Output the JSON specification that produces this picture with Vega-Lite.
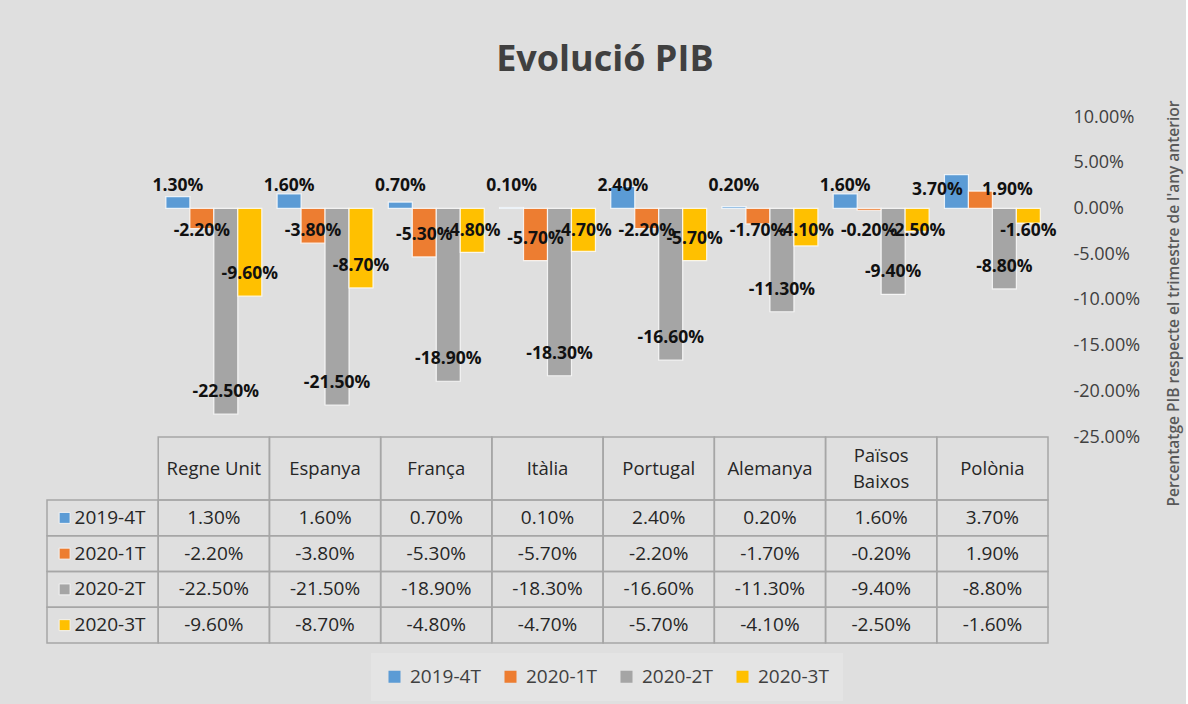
{
  "$schema": "https://vega.github.io/schema/vega-lite/v6.json",
  "background": "#dfdfdf",
  "padding": {"left": 46, "top": 42, "right": 4, "bottom": 4},
  "config": {
    "view": {"stroke": null},
    "font": "Open Sans",
    "locale": {"number": {"decimal": ".", "thousands": ",", "grouping": [3], "currency": ["", ""], "minus": "-"}}
  },
  "title": {"text": "Evolució PIB", "fontSize": 36, "fontWeight": "bold", "color": "#404040", "font": "Open Sans", "anchor": "middle", "offset": 21, "dx": -9},
  "datasets": {
    "gdp": [
      {"country": "Regne Unit", "period": "2019-4T", "value": 0.013},
      {"country": "Regne Unit", "period": "2020-1T", "value": -0.022},
      {"country": "Regne Unit", "period": "2020-2T", "value": -0.225},
      {"country": "Regne Unit", "period": "2020-3T", "value": -0.096},
      {"country": "Espanya", "period": "2019-4T", "value": 0.016},
      {"country": "Espanya", "period": "2020-1T", "value": -0.038},
      {"country": "Espanya", "period": "2020-2T", "value": -0.215},
      {"country": "Espanya", "period": "2020-3T", "value": -0.087},
      {"country": "França", "period": "2019-4T", "value": 0.007},
      {"country": "França", "period": "2020-1T", "value": -0.053},
      {"country": "França", "period": "2020-2T", "value": -0.189},
      {"country": "França", "period": "2020-3T", "value": -0.048},
      {"country": "Itàlia", "period": "2019-4T", "value": 0.001},
      {"country": "Itàlia", "period": "2020-1T", "value": -0.057},
      {"country": "Itàlia", "period": "2020-2T", "value": -0.183},
      {"country": "Itàlia", "period": "2020-3T", "value": -0.047},
      {"country": "Portugal", "period": "2019-4T", "value": 0.024},
      {"country": "Portugal", "period": "2020-1T", "value": -0.022},
      {"country": "Portugal", "period": "2020-2T", "value": -0.166},
      {"country": "Portugal", "period": "2020-3T", "value": -0.057},
      {"country": "Alemanya", "period": "2019-4T", "value": 0.002},
      {"country": "Alemanya", "period": "2020-1T", "value": -0.017},
      {"country": "Alemanya", "period": "2020-2T", "value": -0.113},
      {"country": "Alemanya", "period": "2020-3T", "value": -0.041},
      {"country": "Països Baixos", "period": "2019-4T", "value": 0.016},
      {"country": "Països Baixos", "period": "2020-1T", "value": -0.002},
      {"country": "Països Baixos", "period": "2020-2T", "value": -0.094},
      {"country": "Països Baixos", "period": "2020-3T", "value": -0.025},
      {"country": "Polònia", "period": "2019-4T", "value": 0.037},
      {"country": "Polònia", "period": "2020-1T", "value": 0.019},
      {"country": "Polònia", "period": "2020-2T", "value": -0.088},
      {"country": "Polònia", "period": "2020-3T", "value": -0.016}
    ],
    "periods": [
      {"period": "2019-4T"},
      {"period": "2020-1T"},
      {"period": "2020-2T"},
      {"period": "2020-3T"}
    ]
  },
  "spacing": 0,
  "bounds": "flush",
  "vconcat": [
    {
      "width": 1001,
      "height": 320,
      "data": {"name": "gdp"},
      "encoding": {
        "x": {"field": "country", "type": "nominal", "sort": null, "axis": null,
              "scale": {"domain": ["label", "Regne Unit", "Espanya", "França", "Itàlia", "Portugal", "Alemanya", "Països Baixos", "Polònia"], "paddingInner": 0, "paddingOuter": 0}},
        "xOffset": {"field": "period", "type": "nominal", "sort": null,
              "scale": {"domain": ["2019-4T", "2020-1T", "2020-2T", "2020-3T"], "paddingInner": 0, "paddingOuter": 0.32}}
      },
      "layer": [
        {
          "mark": {"type": "bar", "stroke": "#ffffff", "strokeWidth": 1.2, "strokeOpacity": 0.8},
          "encoding": {
            "y": {"field": "value", "type": "quantitative",
                  "scale": {"domain": [-0.25, 0.1], "nice": false, "zero": false},
                  "axis": {"orient": "right", "values": [0.1, 0.05, 0, -0.05, -0.1, -0.15, -0.2, -0.25], "format": ".2%",
                           "domain": false, "ticks": false, "grid": false, "labelPadding": 25, "labelFontSize": 18,
                           "labelColor": "#404040", "labelFont": "Open Sans",
                           "title": "Percentatge PIB respecte el trimestre de l'any anterior",
                           "titleAngle": 270, "titleX": 125, "titleY": 186, "titleAlign": "center", "titleBaseline": "middle",
                           "titleFontSize": 15.5, "titleFontWeight": 600, "titleColor": "#595959", "titleFont": "Open Sans"}},
            "color": {"field": "period", "type": "nominal",
                      "scale": {"domain": ["2019-4T", "2020-1T", "2020-2T", "2020-3T"], "range": ["#5b9bd5", "#ed7d31", "#a5a5a5", "#ffc000"]},
                      "legend": {"orient": "none", "legendX": 324, "legendY": 536, "direction": "horizontal", "title": null,
                                 "symbolType": "square", "symbolSize": 144, "symbolStrokeWidth": 0, "labelFontSize": 19,
                                 "labelFont": "Open Sans", "labelColor": "#404040", "columnPadding": 20, "labelOffset": 6,
                                 "fillColor": "#e4e4e4", "padding": 14}}
          }
        },
        {
          "transform": [
            {"filter": "!(datum.country === 'Polònia' && datum.value > 0)"},
            {"calculate": "datum.value >= 0 ? 0.025 : min(datum.value + 0.024, -0.025)", "as": "labelY"}
          ],
          "mark": {"type": "text", "fontWeight": "bold", "fontSize": 17.5, "color": "#111111", "font": "Open Sans"},
          "encoding": {
            "y": {"field": "labelY", "type": "quantitative"},
            "text": {"field": "value", "type": "quantitative", "format": ".2%"}
          }
        },
        {
          "transform": [{"filter": "datum.country === 'Polònia' && datum.period === '2019-4T'"}],
          "mark": {"type": "text", "fontWeight": "bold", "fontSize": 17.5, "color": "#111111", "font": "Open Sans", "dx": -19},
          "encoding": {
            "y": {"datum": 0.02, "type": "quantitative"},
            "text": {"field": "value", "type": "quantitative", "format": ".2%"}
          }
        },
        {
          "transform": [{"filter": "datum.country === 'Polònia' && datum.period === '2020-1T'"}],
          "mark": {"type": "text", "fontWeight": "bold", "fontSize": 17.5, "color": "#111111", "font": "Open Sans", "dx": 27},
          "encoding": {
            "y": {"datum": 0.02, "type": "quantitative"},
            "text": {"field": "value", "type": "quantitative", "format": ".2%"}
          }
        }
      ]
    },
    {
      "width": 1001,
      "height": 63,
      "data": {"name": "gdp"},
      "transform": [
        {"filter": "datum.period === '2019-4T'"}
      ],
      "encoding": {
        "x": {"field": "country", "type": "nominal", "sort": null, "axis": null,
              "scale": {"domain": ["label", "Regne Unit", "Espanya", "França", "Itàlia", "Portugal", "Alemanya", "Països Baixos", "Polònia"], "paddingInner": 0, "paddingOuter": 0}}
      },
      "layer": [
        {"mark": {"type": "rect", "fill": "transparent", "stroke": "#a6a6a6", "strokeWidth": 1.5}},
        {"transform": [{"filter": "datum.country !== 'Països Baixos'"}],
         "mark": {"type": "text", "fontSize": 18.5, "color": "#262626", "font": "Open Sans"},
         "encoding": {"text": {"field": "country"}}},
        {"transform": [{"filter": "datum.country === 'Països Baixos'"}],
         "mark": {"type": "text", "fontSize": 18.5, "color": "#262626", "lineHeight": 26, "dy": -13, "lineBreak": " ", "font": "Open Sans"},
         "encoding": {"text": {"field": "country"}}}
      ]
    },
    {
      "width": 1001,
      "height": 143,
      "encoding": {
        "y": {"field": "period", "type": "nominal", "sort": null, "axis": null,
              "scale": {"domain": ["2019-4T", "2020-1T", "2020-2T", "2020-3T"], "paddingInner": 0, "paddingOuter": 0}}
      },
      "layer": [
        {
          "data": {"name": "gdp"},
          "mark": {"type": "rect", "fill": "transparent", "stroke": "#a6a6a6", "strokeWidth": 1.5},
          "encoding": {"x": {"field": "country", "type": "nominal", "sort": null, "axis": null,
              "scale": {"domain": ["label", "Regne Unit", "Espanya", "França", "Itàlia", "Portugal", "Alemanya", "Països Baixos", "Polònia"], "paddingInner": 0, "paddingOuter": 0}}}
        },
        {
          "data": {"name": "periods"},
          "mark": {"type": "rect", "fill": "transparent", "stroke": "#a6a6a6", "strokeWidth": 1.5},
          "encoding": {"x": {"datum": "label", "type": "nominal"}}
        },
        {
          "data": {"name": "gdp"},
          "mark": {"type": "text", "fontSize": 19, "color": "#262626", "font": "Open Sans"},
          "encoding": {
            "x": {"field": "country", "type": "nominal", "sort": null},
            "text": {"field": "value", "type": "quantitative", "format": ".2%"}
          }
        },
        {
          "data": {"name": "periods"},
          "mark": {"type": "square", "xOffset": -38, "size": 121, "opacity": 1, "filled": true, "stroke": "#f2f2f2", "strokeWidth": 1},
          "encoding": {
            "x": {"datum": "label", "type": "nominal"},
            "color": {"field": "period", "type": "nominal", "legend": null}
          }
        },
        {
          "data": {"name": "periods"},
          "mark": {"type": "text", "align": "left", "dx": -28, "fontSize": 19, "color": "#262626", "font": "Open Sans"},
          "encoding": {
            "x": {"datum": "label", "type": "nominal"},
            "text": {"field": "period"}
          }
        }
      ]
    }
  ]
}
